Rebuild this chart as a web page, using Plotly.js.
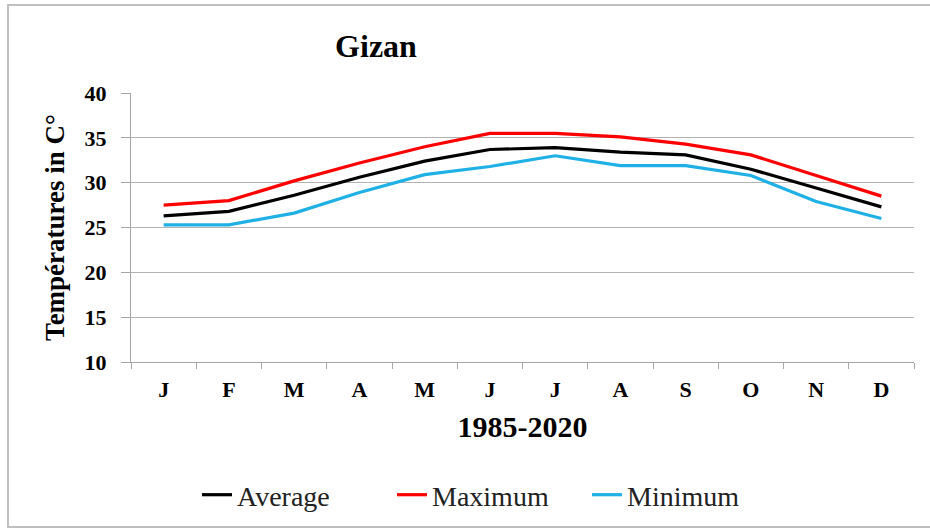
<!DOCTYPE html>
<html>
<head>
<meta charset="utf-8">
<script src="https://cdn.plot.ly/plotly-3.0.1.min.js"></script>
<style>
html,body{margin:0;padding:0;background:#fff;}
#chart{width:930px;height:532px;}
</style>
</head>
<body>
<div id="chart"></div>
<script>
const months = ["J","F","M","A","M","J","J","A","S","O","N","D"];
const monthIds = ["Jan","Feb","Mar","Apr","May","Jun","Jul","Aug","Sep","Oct","Nov","Dec"];
const average = [26.3, 26.8, 28.6, 30.6, 32.4, 33.7, 33.9, 33.4, 33.1, 31.5, 29.4, 27.3];
const maximum = [27.5, 28.0, 30.2, 32.2, 34.0, 35.5, 35.5, 35.1, 34.3, 33.1, 30.8, 28.5];
const minimum = [25.3, 25.3, 26.6, 28.9, 30.9, 31.8, 33.0, 31.9, 31.9, 30.8, 27.9, 26.0];
const yTicks = [10, 15, 20, 25, 30, 35, 40];

const serif = '"Liberation Serif", "Times New Roman", serif';
const mk = (name, y, color) => ({
  type: "scatter", mode: "lines", name: name,
  x: monthIds, y: y,
  line: {color: color, width: 3.2},
  hoverinfo: "skip"
});

const data = [
  mk("Average", average, "#000000"),
  mk("Maximum", maximum, "#ff0000"),
  mk("Minimum", minimum, "#1fb0e6")
];

const L = 131, R = 914, T = 93, B = 362;
const pw = R - L, ph = B - T;
const px = v => (v - L) / pw;
const py = v => (B - v) / ph;

const layout = {
  width: 930, height: 532,
  margin: {l: L, r: 930 - R, t: T, b: 532 - B},
  paper_bgcolor: "#ffffff", plot_bgcolor: "#ffffff",
  showlegend: true,
  title: {
    text: "Gizan", xref: "container", x: 376/930, xanchor: "center",
    yref: "container", y: 1 - 46/532, yanchor: "middle",
    font: {family: serif, size: 32, color: "#000", weight: "bold"}
  },
  xaxis: {
    type: "category", range: [-0.5, 11.5],
    tickmode: "array", tickvals: monthIds, ticktext: months,
    tickson: "boundaries", ticks: "outside", ticklen: 6, tickcolor: "#a6a6a6",
    ticklabelstandoff: 8,
    showline: true, linecolor: "#a6a6a6", linewidth: 1,
    showgrid: false, zeroline: false,
    tickfont: {family: serif, size: 22, color: "#000", weight: "bold"},
    title: {text: "1985-2020", standoff: 14,
            font: {family: serif, size: 30, color: "#000", weight: "bold"}},
    fixedrange: true
  },
  yaxis: {
    range: [10, 40], tickmode: "array", tickvals: yTicks,
    ticks: "outside", ticklen: 9, tickcolor: "#a6a6a6",
    ticklabelstandoff: 10,
    showline: true, linecolor: "#a6a6a6", linewidth: 1,
    showgrid: true, gridcolor: "#b3b3b3", gridwidth: 1, zeroline: false,
    tickfont: {family: serif, size: 22, color: "#000", weight: "bold"},
    title: {text: "Températures in C°", standoff: 12,
            font: {family: serif, size: 27, color: "#000", weight: "bold"}},
    fixedrange: true
  },
  legend: {
    orientation: "h", x: px(197), xanchor: "left", y: py(495), yanchor: "middle",
    font: {family: serif, size: 28, color: "#222"},
    itemwidth: 30, entrywidth: 150, entrywidthmode: "pixels",
    bgcolor: "rgba(0,0,0,0)"
  },
  shapes: [{
    type: "rect", xref: "paper", yref: "paper",
    x0: px(8), x1: px(940), y0: py(527), y1: py(5),
    line: {color: "#bfbfbf", width: 2}, fillcolor: "rgba(0,0,0,0)", layer: "below"
  }]
};

Plotly.newPlot("chart", data, layout, {displayModeBar: false, staticPlot: true});
</script>
</body>
</html>
